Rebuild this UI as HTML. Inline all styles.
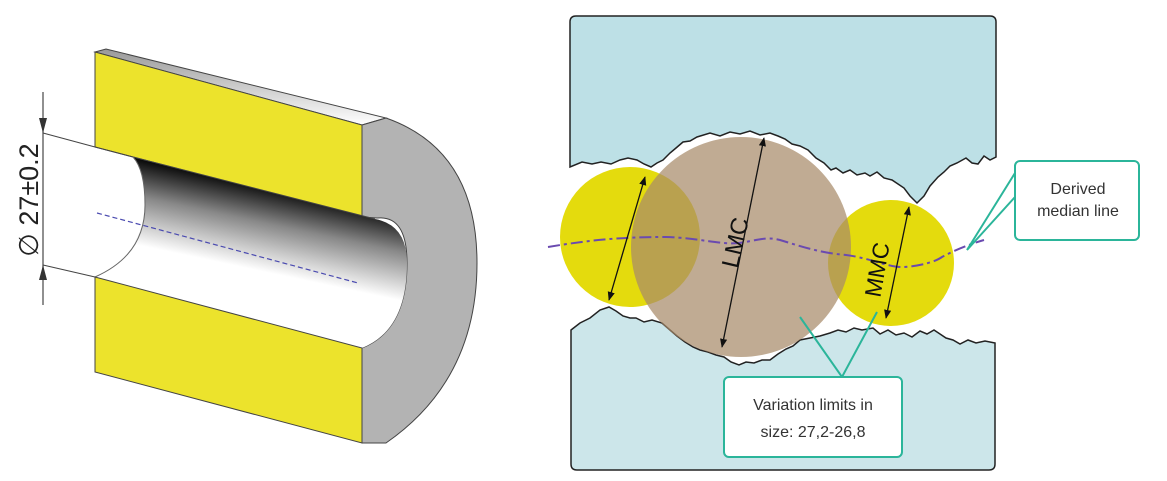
<!DOCTYPE html>
<html><head><meta charset="utf-8"><style>html,body{margin:0;padding:0;background:#fff}svg{display:block}</style></head>
<body>
<svg width="1167" height="481" viewBox="0 0 1167 481" xmlns="http://www.w3.org/2000/svg" font-family="Liberation Sans, sans-serif">
<defs>
<linearGradient id="bore" gradientUnits="userSpaceOnUse" x1="250" y1="180" x2="232" y2="265">
<stop offset="0" stop-color="#000"/><stop offset="0.45" stop-color="#888"/><stop offset="1" stop-color="#fff"/>
</linearGradient>
<linearGradient id="strip" x1="0" y1="0" x2="0" y2="1"><stop offset="0" stop-color="#999"/><stop offset="1" stop-color="#fff"/></linearGradient>
<marker id="ah" viewBox="0 0 10 10" refX="9" refY="5" markerWidth="9" markerHeight="9" orient="auto-start-reverse" markerUnits="userSpaceOnUse"><path d="M0,1 L10,5 L0,9 z" fill="#111"/></marker>
</defs>
<!-- LEFT FIGURE -->
<polygon points="95,52 106,49 386,118 362,125" fill="url(#strip)" stroke="#444" stroke-width="1"/>
<polygon points="95,52 362,125 362,217 95,147" fill="#ece32c" stroke="#444" stroke-width="1"/>
<path d="M362,125 L386,118 Q477,150 477,263 Q477,380 386,443 L362,443 L362,348 Q407,330 407,263 Q407,215 377,218 L362,217 Z" fill="#b3b3b3" stroke="#444" stroke-width="1"/>
<path d="M133,157 L375,219 Q407,225 407,263 Q407,330 362,348 L95,277 Q145,250 145,205 Q145,170 133,157 Z" fill="url(#bore)"/>
<path d="M95,147 L133,157 L375,219" fill="none" stroke="#444" stroke-width="1"/>
<path d="M133,157 Q145,170 145,205 Q145,255 95,277" fill="none" stroke="#666" stroke-width="1"/>
<polygon points="95,277 362,348 362,443 95,372" fill="#ece32c" stroke="#444" stroke-width="1"/>
<line x1="97" y1="213" x2="358" y2="283" stroke="#4a4ab0" stroke-width="1.2" stroke-dasharray="5,3"/>
<line x1="43" y1="92" x2="43" y2="305" stroke="#555" stroke-width="1.3"/>
<line x1="43" y1="133" x2="95" y2="147" stroke="#444" stroke-width="1"/>
<line x1="43" y1="265" x2="95" y2="277" stroke="#444" stroke-width="1"/>
<path d="M39,118 L43,133 L47,118 z" fill="#333"/>
<path d="M39,280 L43,265 L47,280 z" fill="#333"/>
<text transform="translate(38,200) rotate(-90)" text-anchor="middle" font-size="27" fill="#222">∅ 27±0.2</text>
<!-- RIGHT FIGURE -->
<path d="M570,22 Q570,16 576,16 L990,16 Q996,16 996,22 L996,157 L990,160 L984,156 L978,164 L972,163 L966,158 L957,163 L950,166 L944,172 L938,177 L930,186 L924,196 L917,203 L910,196 L904,188 L898,184 L892,180 L884,178 L877,172 L870,176 L865,173 L857,175 L850,170 L843,173 L836,168 L831,170 L824,163 L816,158 L808,150 L800,146 L792,144 L785,139 L778,136 L770,133 L760,135 L750,131 L740,134 L730,132 L720,136 L710,133 L697,137 L690,141 L683,142 L676,148 L670,153 L663,160 L657,163 L651,167 L644,164 L637,160 L628,158 L620,160 L611,164 L601,162 L592,164 L582,162 L570,167 Z" fill="#bde0e6" stroke="#222" stroke-width="1.5"/>
<path d="M571,330 L580,323 L590,318 L600,310 L609,307 L616,311 L623,316 L630,318 L636,318 L644,322 L652,320 L662,323 L670,330 L677,336 L685,342 L693,347 L700,350 L708,352 L716,355 L724,357 L731,362 L739,365 L746,362 L754,363 L762,360 L770,360 L778,354 L786,349 L793,346 L800,340 L810,338 L820,336 L830,333 L838,330 L846,332 L854,328 L862,330 L873,328 L880,334 L888,330 L896,335 L904,333 L912,337 L920,331 L927,334 L934,330 L940,334 L946,338 L953,340 L960,344 L968,340 L976,343 L985,341 L995,343 L995,464 Q995,470 989,470 L577,470 Q571,470 571,464 Z" fill="#cce6ea" stroke="#222" stroke-width="1.5"/>
<circle cx="630" cy="237" r="70" fill="#e3d900" opacity="0.95"/>
<circle cx="891" cy="263" r="63" fill="#e3d900" opacity="0.95"/>
<circle cx="741" cy="247" r="110" fill="#a88a6a" opacity="0.72"/>
<path d="M548,247 C590,240 620,237 666,237 C700,238 720,245 739,243 C755,241 765,236 780,240 C800,246 820,253 846,255 C870,258 890,268 904,267 C920,266 935,262 942,257 C955,250 970,244 984,240" fill="none" stroke="#6a4ab0" stroke-width="2" stroke-dasharray="12,4,3,4"/>
<line x1="645" y1="177" x2="609" y2="300" stroke="#111" stroke-width="1.3" marker-start="url(#ah)" marker-end="url(#ah)"/>
<line x1="764" y1="138" x2="722" y2="347" stroke="#111" stroke-width="1.3" marker-start="url(#ah)" marker-end="url(#ah)"/>
<line x1="909" y1="207" x2="886" y2="318" stroke="#111" stroke-width="1.3" marker-start="url(#ah)" marker-end="url(#ah)"/>
<text transform="translate(737,243) rotate(-77)" text-anchor="middle" dominant-baseline="middle" font-size="24" fill="#111">LMC</text>
<text transform="translate(879,270) rotate(-80)" text-anchor="middle" dominant-baseline="middle" font-size="23" fill="#111">MMC</text>
<polyline points="800,317 842,377 877,312" fill="none" stroke="#2bb59a" stroke-width="2"/>
<polyline points="1015,173 967,250 1015,197" fill="none" stroke="#2bb59a" stroke-width="2"/>
<rect x="1015" y="161" width="124" height="79" rx="5" fill="#fff" stroke="#2bb59a" stroke-width="2"/>
<text x="1078" y="194" text-anchor="middle" font-size="16" fill="#333">Derived</text>
<text x="1078" y="216" text-anchor="middle" font-size="16" fill="#333">median line</text>
<rect x="724" y="377" width="178" height="80" rx="5" fill="#fff" stroke="#2bb59a" stroke-width="2"/>
<text x="813" y="410" text-anchor="middle" font-size="16" fill="#333">Variation limits in</text>
<text x="813" y="437" text-anchor="middle" font-size="16" fill="#333">size: 27,2-26,8</text>
</svg>
</body></html>
